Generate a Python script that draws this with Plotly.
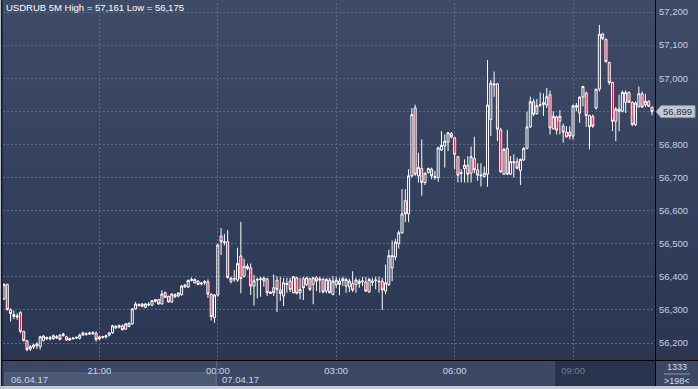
import plotly.graph_objects as go
import pandas as pd

# ---------------- data (USDRUB, 5-minute candles) ----------------
start_time = "2017-04-06 18:35"

opens = [
    56333, 56377, 56300, 56280, 56282, 56292, 56235, 56207, 56182, 56188,
    56192, 56189, 56208, 56217, 56213, 56213, 56219, 56224, 56223, 56219,
    56214, 56213, 56215, 56214, 56231, 56226, 56227, 56228, 56230, 56213,
    56217, 56218, 56224, 56231, 56246, 56248, 56252, 56242, 56250, 56258,
    56303, 56316, 56318, 56308, 56315, 56314, 56326, 56331, 56318, 56352,
    56341, 56324, 56340, 56342, 56346, 56370, 56369, 56389, 56382, 56387,
    56379, 56382, 56385, 56347, 56277, 56345, 56523, 56506, 56506, 56386,
    56393, 56390, 56463, 56402, 56432, 56427, 56372, 56390, 56392, 56388,
    56394, 56354, 56367, 56390, 56360, 56342, 56380, 56387, 56352, 56397,
    56352, 56394, 56377, 56394, 56377, 56397, 56394, 56392, 56357, 56390,
    56347, 56377, 56387, 56394, 56372, 56370, 56380, 56377, 56387, 56385,
    56384, 56354, 56387, 56389, 56387, 56387, 56357, 56377, 56427, 56460,
    56500, 56533, 56630, 56590, 56705, 56910, 56705, 56727, 56685, 56715,
    56725, 56700, 56700, 56783, 56795, 56807, 56833, 56820, 56763, 56712,
    56727, 56737, 56713, 56757, 56723, 56705, 56703, 56710, 56875, 56983,
    56983, 56844, 56710, 56788, 56710, 56748, 56748, 56721, 56753, 56788,
    56853, 56929, 56893, 56918, 56926, 56919, 56950, 56847, 56883, 56870,
    56855, 56837, 56837, 56825, 56917, 56895, 56943, 56955, 56887, 56885,
    56910, 56967, 57133, 57117, 57047, 56987, 56870, 56907, 56900, 56927,
    56957, 56927, 56860, 56913, 56953, 56920, 56930, 56912,
]
highs = [
    56380, 56379, 56305, 56298, 56290, 56296, 56237, 56209, 56194, 56198,
    56202, 56222, 56224, 56219, 56221, 56226, 56224, 56227, 56231, 56222,
    56216, 56217, 56220, 56228, 56234, 56232, 56234, 56236, 56235, 56222,
    56222, 56225, 56232, 56255, 56254, 56256, 56256, 56260, 56262, 56305,
    56324, 56320, 56320, 56321, 56324, 56330, 56333, 56333, 56359, 56355,
    56343, 56350, 56350, 56354, 56375, 56378, 56392, 56398, 56395, 56390,
    56384, 56390, 56392, 56350, 56348, 56500, 56547, 56530, 56541, 56400,
    56420, 56488, 56566, 56455, 56440, 56440, 56406, 56398, 56400, 56400,
    56396, 56356, 56407, 56402, 56400, 56397, 56397, 56397, 56402, 56400,
    56397, 56400, 56400, 56397, 56400, 56402, 56400, 56397, 56397, 56397,
    56402, 56400, 56397, 56400, 56397, 56394, 56417, 56397, 56394, 56400,
    56400, 56397, 56397, 56400, 56400, 56397, 56437, 56482, 56510, 56515,
    56540, 56665, 56665, 56725, 56910, 56920, 56775, 56815, 56715, 56730,
    56730, 56720, 56793, 56840, 56830, 56837, 56837, 56822, 56765, 56725,
    56755, 56765, 56793, 56823, 56743, 56743, 56733, 57055, 56995, 57020,
    56985, 56850, 56790, 56844, 56765, 56770, 56760, 56757, 56792, 56899,
    56944, 56938, 56937, 56957, 56954, 56970, 56963, 56900, 56887, 56903,
    56863, 56855, 56855, 56920, 56925, 56945, 56977, 56960, 56890, 56890,
    56967, 57161, 57137, 57120, 57050, 56990, 56913, 56950, 56963, 56963,
    56960, 56930, 56930, 56975, 56960, 56953, 56933, 56915,
]
lows = [
    56330, 56298, 56265, 56272, 56270, 56229, 56205, 56175, 56176, 56182,
    56182, 56180, 56205, 56209, 56208, 56210, 56212, 56208, 56219, 56207,
    56206, 56210, 56212, 56211, 56222, 56222, 56224, 56225, 56204, 56208,
    56213, 56214, 56220, 56228, 56242, 56244, 56238, 56240, 56248, 56255,
    56301, 56311, 56308, 56305, 56311, 56312, 56322, 56316, 56316, 56336,
    56322, 56322, 56336, 56338, 56343, 56366, 56366, 56386, 56380, 56375,
    56374, 56375, 56336, 56268, 56261, 56340, 56466, 56495, 56395, 56380,
    56385, 56385, 56350, 56398, 56420, 56345, 56313, 56335, 56340, 56370,
    56342, 56348, 56342, 56294, 56327, 56312, 56352, 56354, 56350, 56347,
    56332, 56330, 56372, 56357, 56317, 56357, 56352, 56350, 56350, 56350,
    56344, 56367, 56344, 56372, 56352, 56354, 56354, 56352, 56367, 56372,
    56354, 56352, 56372, 56362, 56352, 56300, 56347, 56372, 56387, 56450,
    56485, 56530, 56565, 56565, 56700, 56705, 56685, 56645, 56677, 56712,
    56695, 56693, 56687, 56780, 56730, 56780, 56818, 56725, 56685, 56685,
    56685, 56685, 56685, 56713, 56690, 56673, 56700, 56672, 56825, 56944,
    56810, 56715, 56708, 56707, 56707, 56700, 56725, 56677, 56750, 56785,
    56850, 56885, 56890, 56913, 56886, 56910, 56830, 56845, 56830, 56830,
    56805, 56820, 56815, 56815, 56900, 56865, 56915, 56853, 56785, 56850,
    56905, 56960, 57115, 57047, 56980, 56840, 56810, 56840, 56897, 56895,
    56925, 56855, 56855, 56913, 56910, 56913, 56913, 56888,
]
closes = [
    56377, 56301, 56289, 56286, 56279, 56235, 56207, 56180, 56189, 56194,
    56197, 56219, 56221, 56213, 56216, 56222, 56216, 56211, 56227, 56209,
    56209, 56215, 56217, 56224, 56224, 56228, 56230, 56231, 56211, 56218,
    56219, 56222, 56231, 56252, 56250, 56252, 56240, 56258, 56260, 56303,
    56318, 56313, 56311, 56318, 56317, 56328, 56331, 56318, 56348, 56338,
    56324, 56348, 56346, 56351, 56372, 56375, 56389, 56392, 56392, 56377,
    56381, 56385, 56348, 56280, 56345, 56496, 56506, 56504, 56398, 56396,
    56395, 56440, 56395, 56432, 56425, 56372, 56388, 56392, 56394, 56396,
    56352, 56350, 56352, 56362, 56350, 56382, 56377, 56362, 56400, 56350,
    56362, 56367, 56397, 56362, 56397, 56387, 56390, 56354, 56392, 56352,
    56387, 56390, 56377, 56388, 56392, 56387, 56360, 56390, 56380, 56387,
    56357, 56392, 56384, 56390, 56385, 56360, 56382, 56464, 56464, 56505,
    56533, 56590, 56590, 56705, 56890, 56710, 56730, 56685, 56713, 56727,
    56705, 56703, 56790, 56797, 56810, 56835, 56823, 56770, 56707, 56715,
    56737, 56710, 56763, 56723, 56707, 56707, 56713, 56919, 56985, 56980,
    56846, 56717, 56785, 56710, 56748, 56745, 56728, 56755, 56788, 56853,
    56929, 56891, 56917, 56920, 56921, 56944, 56850, 56885, 56843, 56885,
    56837, 56823, 56825, 56917, 56913, 56943, 56975, 56887, 56853, 56855,
    56967, 57133, 57120, 57050, 56987, 56870, 56907, 56900, 56957, 56957,
    56927, 56860, 56925, 56953, 56913, 56930, 56915, 56899,
]

y_ticks = [56200, 56300, 56400, 56500, 56600, 56700, 56800, 56900, 57000, 57100, 57200]
x_tick_times = ["2017-04-06 21:00", "2017-04-07 00:00", "2017-04-07 03:00",
                "2017-04-07 06:00", "2017-04-07 09:00"]
x_tick_labels = ["21:00", "00:00", "03:00", "06:00", "09:00"]
date_labels = ["06.04.17", "07.04.17"]
title_text = "USDRUB 5M High = 57,161 Low = 56,175"
bar_count_top = "1333"
bar_count_bottom = ">198<"

times = pd.date_range(start_time, periods=len(opens), freq="5min")

# ---------------- geometry helpers (paper coords) ----------------
W, H = 698, 389
ML, MR, MT, MB = 3, 43, 3, 29
PW = W - ML - MR      # 652
PH = H - MT - MB      # 357


def px(x):
    return (x - ML) / PW


def py(y):
    return (H - MB - y) / PH


FONT = "Liberation Sans, Arial, sans-serif"
shapes = []

# vertical gradient background (plot area + right axis panel)
top_c = (62, 75, 103)
bot_c = (43, 55, 82)
N = 40
for k in range(N):
    t = k / (N - 1)
    c = tuple(round(top_c[j] + (bot_c[j] - top_c[j]) * t) for j in range(3))
    y0 = 360 * k / N
    y1 = 360 * (k + 1) / N + 0.6
    shapes.append(dict(type="rect", xref="paper", yref="paper", layer="below",
                       x0=px(0), x1=px(W), y0=py(y0), y1=py(min(y1, 360)),
                       fillcolor="rgb(%d,%d,%d)" % c, line=dict(width=0)))

# bottom time strip
shapes.append(dict(type="rect", xref="paper", yref="paper", layer="below",
                   x0=px(0), x1=px(W), y0=py(386), y1=py(360),
                   fillcolor="#3c4864", line=dict(width=0)))
shapes.append(dict(type="rect", xref="paper", yref="paper", layer="below",
                   x0=px(556), x1=px(655), y0=py(386), y1=py(360),
                   fillcolor="#29334d", line=dict(width=0)))
shapes.append(dict(type="rect", xref="paper", yref="paper", layer="below",
                   x0=px(5), x1=px(216), y0=py(385), y1=py(373),
                   fillcolor="#4c5975", line=dict(color="#5b6883", width=1)))
shapes.append(dict(type="line", xref="paper", yref="paper", layer="above",
                   x0=px(216.5), x1=px(216.5), y0=py(386), y1=py(360),
                   line=dict(color="#5a6782", width=1)))
shapes.append(dict(type="line", xref="paper", yref="paper", layer="above",
                   x0=px(556), x1=px(556), y0=py(386), y1=py(360),
                   line=dict(color="#242d44", width=1)))

# frame lines
shapes.append(dict(type="line", xref="paper", yref="paper", layer="above",
                   x0=px(655.5), x1=px(655.5), y0=py(0), y1=py(386),
                   line=dict(color="#000000", width=1)))
shapes.append(dict(type="line", xref="paper", yref="paper", layer="above",
                   x0=px(2), x1=px(W), y0=py(360.5), y1=py(360.5),
                   line=dict(color="#000000", width=1)))
shapes.append(dict(type="rect", xref="paper", yref="paper", layer="above",
                   x0=px(0), x1=px(W), y0=py(389), y1=py(386),
                   fillcolor="#c3cbd3", line=dict(width=0)))
shapes.append(dict(type="rect", xref="paper", yref="paper", layer="above",
                   x0=px(0), x1=px(1), y0=py(389), y1=py(0),
                   fillcolor="#b4bcc6", line=dict(width=0)))
shapes.append(dict(type="rect", xref="paper", yref="paper", layer="above",
                   x0=px(1), x1=px(2.6), y0=py(386), y1=py(0),
                   fillcolor="#161b27", line=dict(width=0)))
# bar-count divider
shapes.append(dict(type="line", xref="paper", yref="paper", layer="above",
                   x0=px(664), x1=px(690), y0=py(374), y1=py(374),
                   line=dict(color="#8c98ac", width=1)))

# last price tag (pointer) at the last close
last = closes[-1]
yr = [56148.7, 57227.2]
per_px = (yr[1] - yr[0]) / PH
hh = 6 * per_px
shapes.append(dict(type="path", xref="paper", yref="y", layer="above",
                   path="M %f,%f L %f,%f L %f,%f L %f,%f L %f,%f Z" % (
                       px(656), last, px(661), last + hh, px(695), last + hh,
                       px(695), last - hh, px(661), last - hh),
                   fillcolor="#c5c9d1", line=dict(color="#8a93a3", width=1)))

annotations = [
    dict(xref="paper", yref="paper", x=px(4), y=py(8), xanchor="left", yanchor="middle",
         text=title_text, showarrow=False, font=dict(family=FONT, size=9.5, color="#ffffff")),
    dict(xref="paper", yref="paper", x=px(9), y=py(379.5), xanchor="left", yanchor="middle",
         text=date_labels[0], showarrow=False, font=dict(family=FONT, size=9.5, color="#c9d6ec")),
    dict(xref="paper", yref="paper", x=px(220), y=py(379.5), xanchor="left", yanchor="middle",
         text=date_labels[1], showarrow=False, font=dict(family=FONT, size=9.5, color="#c9d6ec")),
    dict(xref="paper", yref="paper", x=px(677), y=py(367), xanchor="center", yanchor="middle",
         text=bar_count_top, showarrow=False, font=dict(family=FONT, size=9, color="#d4deee")),
    dict(xref="paper", yref="paper", x=px(677), y=py(380.5), xanchor="center", yanchor="middle",
         text=bar_count_bottom, showarrow=False, font=dict(family=FONT, size=9, color="#d4deee")),
    dict(xref="paper", yref="y", x=px(678), y=last, xanchor="center", yanchor="middle",
         text=f"{last:,}", showarrow=False, font=dict(family=FONT, size=9.5, color="#22304c")),
]

fig = go.Figure(go.Candlestick(
    x=times, open=opens, high=highs, low=lows, close=closes,
    increasing=dict(line=dict(color="#ffffff", width=1), fillcolor="rgba(0,0,0,0)"),
    decreasing=dict(line=dict(color="#ffffff", width=1), fillcolor="#f0103f"),
    whiskerwidth=0, hoverinfo="skip",
))

tick_text = x_tick_labels[:-1] + ["<span style='color:#6f7d97'>%s</span>" % x_tick_labels[-1]]
# the label hidden under the last-price tag is left blank (its gridline stays)
y_tick_text = ["" if abs(v - last) < 30 else f"{v:,}" for v in y_ticks]

fig.update_layout(
    width=W, height=H,
    margin=dict(l=ML, r=MR, t=MT, b=MB, pad=0),
    paper_bgcolor="rgba(0,0,0,0)", plot_bgcolor="rgba(0,0,0,0)",
    showlegend=False,
    shapes=shapes, annotations=annotations,
    boxgap=0.12,
    xaxis=dict(
        type="date", rangeslider=dict(visible=False),
        range=["2017-04-06 18:33:29", "2017-04-07 11:04:34"],
        tickvals=x_tick_times, ticktext=tick_text,
        showgrid=True, gridcolor="#5d6b86", griddash="2px,2px", gridwidth=1,
        zeroline=False, showline=False, ticks="",
        tickfont=dict(family=FONT, size=9.5, color="#c9d6ec"),
        ticklabelstandoff=3,
    ),
    yaxis=dict(
        side="right", range=yr, tickvals=y_ticks, ticktext=y_tick_text,
        showgrid=True, gridcolor="#5d6b86", griddash="2px,2px", gridwidth=1,
        zeroline=False, showline=False, ticks="",
        tickfont=dict(family=FONT, size=9.5, color="#c3cfe3"),
        ticklabelstandoff=3,
    ),
)

fig.write_html(
    "out.html",
    config={"displayModeBar": False},
    post_script="document.body.style.margin='0';document.body.style.padding='0';"
                "document.body.style.background='#2c3753';",
)
